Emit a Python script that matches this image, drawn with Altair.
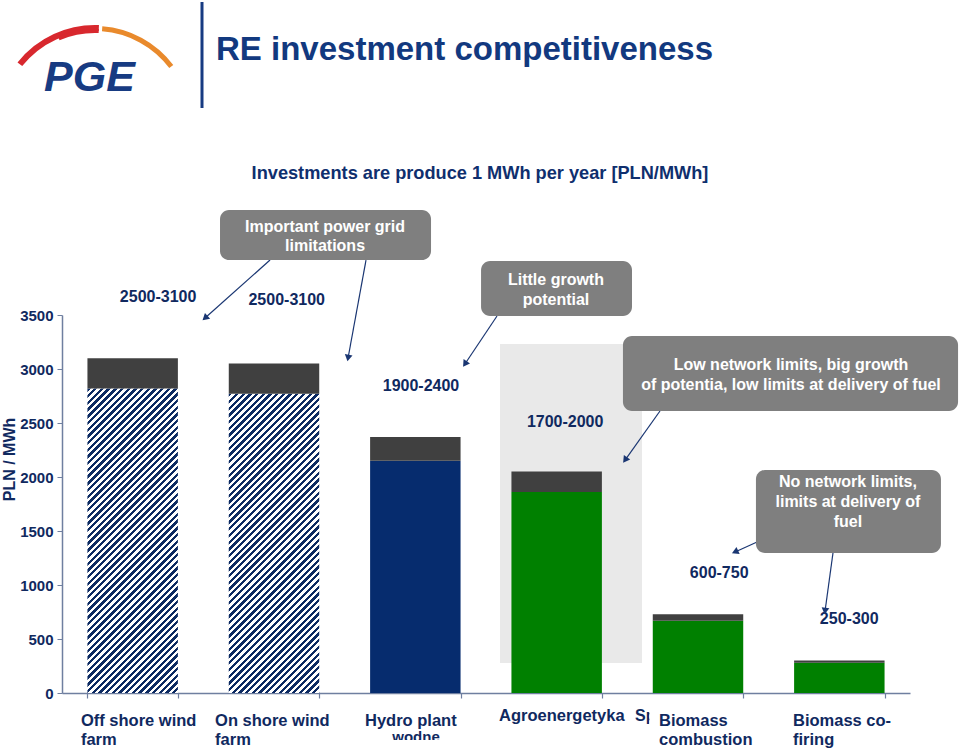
import math
import altair as alt
import pandas as pd

# ---------------- data ----------------
categories = ["Off shore wind farm", "On shore wind farm", "Hydro plant",
              "Agroenergetyka", "Biomass combustion", "Biomass co-firing"]
base_cost = [2820, 2770, 2150, 1860, 670, 280]      # lower segment [PLN/MWh]
total_cost = [3100, 3050, 2370, 2050, 730, 300]     # top of bar [PLN/MWh]
base_style = ["hatch", "hatch", "hydro", "green", "green", "green"]
range_texts = ["2500-3100", "2500-3100", "1900-2400", "1700-2000", "600-750", "250-300"]
y_tick_values = [0, 500, 1000, 1500, 2000, 2500, 3000, 3500]
Y_MAX = 3500

# ---------------- layout / styles ----------------
W, H = 848, 378
PAD = {"left": 62, "top": 315, "right": 50, "bottom": 63}
FONT = "Liberation Sans"
NAVY = "#10295f"
AXIS_C = "#6f7fa0"
P_IN, P_OUT = 0.36, 0.18

# annotation positions in (category units, value units)
range_pos = [(0.68, 3667), (1.59, 3639), (2.54, 2843), (3.56, 2509), (4.65, 1111), (5.57, 685)]
xlabel_lines = [
    ("Off shore wind", 0.134, -306), ("farm", 0.134, -481),
    ("On shore wind", 1.083, -306), ("farm", 1.083, -481),
    ("Hydro plant", 2.144, -306),
    ("Agroenergetyka", 3.092, -259),
    ("Biomass", 4.224, -306), ("combustion", 4.224, -481),
    ("Biomass co-", 5.172, -306), ("firing", 5.172, -481),
]
boxes = [
    (1.118, 2.611, 4472, 4009),
    (2.965, 4.033, 4000, 3491),
    (3.969, 6.340, 3306, 2611),
    (4.910, 6.219, 2065, 1296),
]
box_lines = [
    ("Important power grid", 1.861, 4315), ("limitations", 1.861, 4139),
    ("Little growth", 3.495, 3824), ("potential", 3.495, 3639),
    ("Low network limits, big growth", 5.158, 3037),
    ("of potentia, low limits at delivery of fuel", 5.158, 2852),
    ("No network limits,", 5.561, 1954), ("limits at delivery of", 5.561, 1769),
    ("fuel", 5.561, 1583),
]
arrows = [
    (1.472, 4009, 1.012, 3472),
    (2.151, 4009, 2.024, 3102),
    (3.078, 3491, 2.851, 3046),
    (4.231, 2611, 3.984, 2157),
    (4.918, 1398, 4.762, 1306),
    (5.455, 1296, 5.399, 759),
]
shade = (3.099, 4.104, 278, 3231)

# ---------------- tables ----------------
bars = pd.DataFrame({"cat": categories, "base": base_cost, "total": total_cost,
                     "style": base_style})
ann_x = alt.Scale(domain=[0, 6], nice=False, zero=False)
yscale = alt.Scale(domain=[0, Y_MAX], nice=False, zero=True)
band = alt.Scale(domain=categories, paddingInner=P_IN, paddingOuter=P_OUT)

step = W / (len(categories) - P_IN + 2 * P_OUT)
bw = step * (1 - P_IN)


def hatch_fill(w, h, period=6.7, duty=0.5, c1="#0c2a62", c2="#ffffff"):
    s = (w + h) / (w * w + h * h)
    n = (w + h) / period
    stops = []
    k = 0
    while k < n:
        t0 = k / n
        t1 = min((k + duty) / n, 1)
        t2 = min((k + 1) / n, 1)
        stops += [{"offset": t0, "color": c1}, {"offset": t1, "color": c1},
                  {"offset": t1, "color": c2}, {"offset": t2, "color": c2}]
        k += 1
    return {"gradient": "linear", "x1": 0, "y1": 0, "x2": w * s, "y2": h * s,
            "stops": stops}


xaxis = alt.Axis(labels=False, title=None, tickBand="extent", domainColor=AXIS_C,
                 tickColor=AXIS_C, tickSize=5, domainWidth=1.5, tickWidth=1.2,
                 grid=False)
yaxis = alt.Axis(values=y_tick_values, format="d", title="PLN / MWh", labelFont=FONT,
                 labelFontSize=15, labelFontWeight="bold", labelColor=NAVY,
                 titleFont=FONT, titleFontSize=16, titleFontWeight="bold",
                 titleColor=NAVY, titlePadding=2, titleY=144, domainColor=AXIS_C,
                 tickColor=AXIS_C, tickSize=5, domainWidth=1.5, labelPadding=4,
                 grid=False)


def Y(field):
    return alt.Y(field, scale=yscale, axis=yaxis)


def AX(field):
    return alt.X(field, scale=ann_x, axis=None)


base_solid = alt.Chart(bars).transform_filter(alt.datum.style != "hatch").mark_bar().encode(
    x=alt.X("cat:N", sort=categories, scale=band, axis=xaxis),
    y=Y("base:Q"),
    y2=alt.datum(0),
    color=alt.Color("style:N", scale=alt.Scale(domain=["hydro", "green"],
                                               range=["#062c6e", "#008000"]), legend=None),
)
hatch_layers = []
for c, b, st in zip(categories, base_cost, base_style):
    if st != "hatch":
        continue
    hpx = b * H / Y_MAX
    hatch_layers.append(
        alt.Chart(bars).transform_filter(alt.datum.cat == c).mark_bar(
            fill=hatch_fill(bw, hpx)).encode(
            x=alt.X("cat:N", sort=categories, scale=band, axis=xaxis),
            y=Y("base:Q"),
            y2=alt.datum(0),
        )
    )
top_seg = alt.Chart(bars).mark_bar(color="#404040").encode(
    x=alt.X("cat:N", sort=categories, scale=band, axis=xaxis),
    y=Y("total:Q"),
    y2="base:Q",
)
bars_layer = alt.layer(base_solid, *hatch_layers, top_seg)

# background shade
shade_df = pd.DataFrame([{"x1": shade[0], "x2": shade[1], "y1": shade[2], "y2": shade[3]}])
shade_layer = alt.Chart(shade_df).mark_rect(color="#e9e9e9").encode(
    x=AX("x1:Q"), x2="x2:Q", y=Y("y1:Q"), y2="y2:Q")

# range labels
rl_df = pd.DataFrame({"t": range_texts, "x": [p[0] for p in range_pos],
                      "y": [p[1] for p in range_pos]})
range_layer = alt.Chart(rl_df).mark_text(font=FONT, fontSize=16, fontWeight="bold",
                                         color=NAVY, baseline="middle").encode(
    x=AX("x:Q"), y=Y("y:Q"), text="t:N")

# category labels
xl_df = pd.DataFrame(xlabel_lines, columns=["t", "x", "y"])
xl_layer = alt.Chart(xl_df).mark_text(font=FONT, fontSize=16.5, fontWeight="bold",
                                      color=NAVY, align="left", baseline="alphabetic").encode(
    x=AX("x:Q"), y=Y("y:Q"), text="t:N")
# clipped leftovers of the original labels
clip_txt = pd.DataFrame([{"t": "wodne", "x": 2.505, "y": -458, "a": "center"},
                         {"t": "Sp", "x": 4.054, "y": -259, "a": "left"}])
clip_txt_layer = alt.Chart(clip_txt).transform_filter(alt.datum.a == "center").mark_text(
    font=FONT, fontSize=15, fontWeight="bold", color=NAVY, align="center",
    baseline="alphabetic").encode(x=AX("x:Q"), y=Y("y:Q"), text="t:N")
clip_txt_layer2 = alt.Chart(clip_txt).transform_filter(alt.datum.a == "left").mark_text(
    font=FONT, fontSize=16, fontWeight="bold", color=NAVY, align="left",
    baseline="alphabetic").encode(x=AX("x:Q"), y=Y("y:Q"), text="t:N")
covers = pd.DataFrame([{"x1": 2.30, "x2": 2.72, "y1": -435, "y2": -560},
                       {"x1": 4.156, "x2": 4.218, "y1": -100, "y2": -330}])
cover_layer = alt.Chart(covers).mark_rect(color="white").encode(
    x=AX("x1:Q"), x2="x2:Q", y=Y("y1:Q"), y2="y2:Q")

# grey call-out boxes
box_df = pd.DataFrame(boxes, columns=["x1", "x2", "y1", "y2"])
box_layer = alt.Chart(box_df).mark_rect(color="#7f7f7f", cornerRadius=9).encode(
    x=AX("x1:Q"), x2="x2:Q", y=Y("y1:Q"), y2="y2:Q")
bl_df = pd.DataFrame(box_lines, columns=["t", "x", "y"])
bl_layer = alt.Chart(bl_df).mark_text(font=FONT, fontSize=16, fontWeight="bold",
                                      color="white", baseline="middle").encode(
    x=AX("x:Q"), y=Y("y:Q"), text="t:N")

# arrows
arr = pd.DataFrame(arrows, columns=["x1", "y1", "x2", "y2"])
ang = []
for x1, y1, x2, y2 in arrows:
    dx = (x2 - x1) * W / 6
    dy = -(y2 - y1) * H / Y_MAX
    ang.append(math.degrees(math.atan2(dx, -dy)) % 360)
arr["ang"] = ang
arrow_line = alt.Chart(arr).mark_rule(color="#1a3672", strokeWidth=1.2).encode(
    x=AX("x1:Q"), x2="x2:Q", y=Y("y1:Q"), y2="y2:Q")
arrow_head = alt.Chart(arr).mark_point(shape="triangle-up", filled=True, size=60,
                                       color="#1a3672", opacity=1).encode(
    x=AX("x2:Q"), y=Y("y2:Q"), angle=alt.Angle("ang:Q", scale=None))

# slide header (logo, divider, titles) – placed in pixels relative to plot origin
one = pd.DataFrame({"k": [0]})
arc_red = alt.Chart(one).mark_arc(color="#d8282e", radius=99, radius2=93,
                                  theta=2 * math.pi - 0.899, theta2=2 * math.pi + 0.04).encode(
    x=alt.value(33), y=alt.value(-191))
arc_red2 = alt.Chart(one).mark_arc(color="#d8282e", radius=95, radius2=91,
                                   theta=2 * math.pi - 0.40, theta2=2 * math.pi + 0.04).encode(
    x=alt.value(33), y=alt.value(-191))
arc_org = alt.Chart(one).mark_arc(color="#e98a2c", radius=98, radius2=93,
                                  theta=0.075, theta2=0.925).encode(
    x=alt.value(33), y=alt.value(-191))
pge = alt.Chart(one).mark_text(text="PGE", font=FONT, fontSize=43, fontWeight="bold",
                               fontStyle="italic", color="#173b82", align="left").encode(
    x=alt.value(-18), y=alt.value(-237))
divider = alt.Chart(one).mark_rule(color="#173b82", strokeWidth=3).encode(
    x=alt.value(140), y=alt.value(-313), y2=alt.value(-207))
title = alt.Chart(one).mark_text(text="RE investment competitiveness", font=FONT,
                                 fontSize=33, fontWeight="bold", color="#12397f",
                                 align="left").encode(x=alt.value(154), y=alt.value(-265))
subtitle = alt.Chart(one).mark_text(text="Investments are produce 1 MWh per year [PLN/MWh]",
                                    font=FONT, fontSize=18.2, fontWeight="bold",
                                    color="#0f2f6e", align="center").encode(
    x=alt.value(418), y=alt.value(-141))

ann_layer = alt.layer(range_layer, clip_txt_layer, clip_txt_layer2, cover_layer, xl_layer,
                      arrow_line, arrow_head, box_layer, bl_layer,
                      arc_red, arc_red2, arc_org, pge, divider, title, subtitle)

chart = alt.layer(shade_layer, bars_layer, ann_layer).resolve_scale(
    x="independent").properties(
    width=W, height=H, padding=PAD, autosize=alt.AutoSizeParams(type="none"),
    background="white",
).configure_view(stroke=None)

chart.save("out.html", embed_options={"renderer": "svg", "actions": False})
